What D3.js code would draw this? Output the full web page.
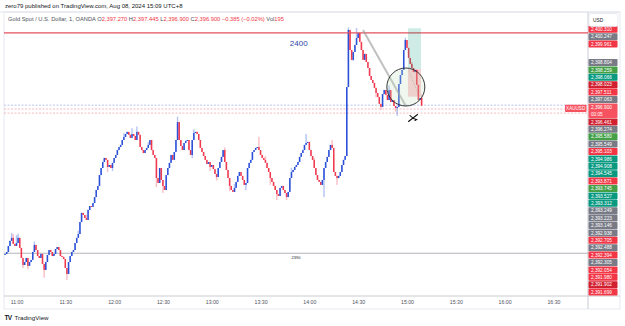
<!DOCTYPE html>
<html>
<head>
<meta charset="utf-8">
<script src="https://cdn.jsdelivr.net/npm/d3@7"></script>
<style>
  body { margin: 0; background: #fff; }
  text { font-family: "Liberation Sans", Arial, sans-serif; }
</style>
</head>
<body>
<svg id="chart" width="625" height="326"></svg>
<script>
// 1-minute XAUUSD bars, Aug 08 2024, first bar at 10:53
const startTime = "10:53";
const firstOpen = 2389.95;
const closes = [
  2389.97, 2390.06, 2390.34, 2390.58, 2390.72, 2390.44, 2390.34, 2390.48, 2390.72, 2390.25,
  2389.78, 2389.45, 2389.59, 2389.78, 2389.41, 2389.59, 2389.69, 2390.06, 2390.39, 2390.15,
  2389.87, 2389.78, 2389.97, 2389.50, 2389.22, 2389.59, 2389.92, 2390.15, 2390.06, 2389.87,
  2389.97, 2390.20, 2390.29, 2390.15, 2389.87, 2389.83, 2389.73, 2389.31, 2389.03, 2389.59,
  2389.87, 2390.06, 2390.15, 2390.48, 2390.72, 2390.90, 2391.46, 2391.89, 2391.79, 2391.65,
  2391.56, 2392.03, 2392.21, 2392.17, 2392.35, 2392.63, 2392.96, 2393.15, 2393.66, 2393.99,
  2394.27, 2394.46, 2394.37, 2394.04, 2394.13, 2393.99, 2394.23, 2394.46, 2394.60, 2394.83,
  2394.97, 2395.07, 2395.30, 2395.44, 2395.58, 2395.68, 2395.54, 2395.40, 2395.58, 2395.49,
  2395.30, 2395.68, 2395.54, 2394.97, 2394.83, 2394.69, 2394.83, 2394.93, 2395.07, 2395.30,
  2394.83, 2394.60, 2394.46, 2393.52, 2393.29, 2393.99, 2393.43, 2393.15, 2392.96, 2393.66,
  2393.99, 2394.23, 2394.60, 2394.37, 2394.74, 2395.30, 2396.14, 2395.30, 2395.02, 2394.83,
  2395.16, 2395.26, 2395.30, 2394.83, 2394.60, 2395.30, 2395.63, 2395.68, 2395.58, 2395.30,
  2394.93, 2394.74, 2394.55, 2394.37, 2394.18, 2394.27, 2394.04, 2394.13, 2393.94, 2393.71,
  2393.57, 2393.99, 2394.27, 2394.51, 2394.83, 2394.27, 2393.90, 2393.52, 2393.15, 2392.96,
  2392.87, 2393.06, 2393.34, 2393.62, 2393.80, 2393.62, 2393.43, 2393.20, 2393.29, 2393.99,
  2394.23, 2394.37, 2394.74, 2394.83, 2394.93, 2394.97, 2394.83, 2394.60, 2394.46, 2394.37,
  2394.23, 2393.99, 2393.80, 2393.52, 2393.34, 2393.15, 2392.96, 2392.77, 2392.68, 2393.06,
  2393.15, 2392.96, 2392.82, 2392.63, 2392.87, 2393.52, 2393.80, 2393.90, 2394.04, 2394.13,
  2394.27, 2394.51, 2394.69, 2394.83, 2395.07, 2395.16, 2395.21, 2394.83, 2394.55, 2394.37,
  2393.99, 2393.66, 2393.43, 2393.34, 2393.20, 2393.43, 2393.99, 2394.27, 2394.51, 2394.83,
  2395.07, 2394.93, 2393.80, 2393.62, 2393.52, 2393.62, 2393.80, 2394.13, 2394.37, 2394.55,
  2397.78, 2400.45, 2399.51, 2399.05, 2399.42, 2399.75, 2400.07, 2400.31, 2399.89, 2399.51,
  2399.05, 2399.33, 2398.95, 2398.67, 2398.30, 2398.11, 2397.97, 2397.74, 2397.50, 2397.31,
  2396.99, 2396.85, 2397.45, 2397.64, 2397.41, 2397.17, 2397.64, 2397.08, 2397.17, 2396.89,
  2396.80, 2396.85, 2397.92, 2398.34, 2398.58, 2399.51, 2399.98, 2399.61, 2399.14, 2398.86,
  2398.67, 2398.48, 2398.58, 2397.88, 2397.17, 2397.27, 2396.90
];
// visible wick ends (bar index -> price)
const wickHigh = {
  4: 2390.95, 5: 2390.90, 7: 2390.85, 8: 2390.92, 18: 2390.55, 45: 2391.05, 50: 2391.80,
  73: 2395.62, 78: 2395.85, 81: 2395.93, 88: 2395.20, 106: 2396.39, 116: 2395.80,
  135: 2394.95, 141: 2393.25, 156: 2395.44, 160: 2394.55, 176: 2394.00, 185: 2395.58,
  190: 2394.45, 201: 2395.30, 202: 2394.40, 211: 2400.57, 216: 2400.54, 222: 2399.15,
  236: 2397.85, 246: 2400.09, 250: 2398.95, 253: 2398.55, 256: 2397.445
};
const wickLow = {
  11: 2389.30, 14: 2389.25, 24: 2388.86, 38: 2388.75, 63: 2393.80, 66: 2393.85,
  93: 2393.10, 97: 2392.82, 115: 2394.45, 126: 2393.85, 130: 2393.40, 138: 2392.91,
  148: 2392.95, 163: 2393.20, 167: 2392.49, 173: 2392.49, 196: 2392.63, 204: 2393.20,
  214: 2399.00, 228: 2397.30, 231: 2396.71, 240: 2396.62, 241: 2396.43
};
const timeTicks = ["11:00", "11:30", "12:00", "12:30", "13:00", "13:30", "14:00", "14:30", "15:00", "15:30", "16:00", "16:30"];
const axisLabels = [
  "2,400.310", "2,400.247", "2,399.961", "2,398.804", "2,398.259", "2,398.066", "2,398.023",
  "2,397.511", "2,397.063", "2,396.900", "2,396.461", "2,396.274", "2,395.580", "2,395.549",
  "2,395.103", "2,394.986", "2,394.908", "2,394.545", "2,393.871", "2,393.745", "2,393.527",
  "2,393.312", "2,393.249", "2,393.223", "2,393.146", "2,392.938", "2,392.705", "2,392.488",
  "2,392.394", "2,392.305", "2,392.054", "2,391.980", "2,391.902", "2,391.699"
];
const axisKinds = [
  "red", "grey", "red", "grey", "green", "teal", "dark",
  "red", "grey", "last", "dark", "grey", "green", "grey",
  "red", "teal", "teal", "teal", "red", "green", "teal",
  "teal", "grey", "grey", "grey", "grey", "red", "grey",
  "red", "grey", "red", "red", "dark", "red"
];
const headerOHLC = ["2,397.270", "2,397.445", "2,396.900", "2,396.900"];
const headerChange = "\u22120.385 (\u22120.02%)";
const headerVol = "195";
const resistance = 2400.31;
const support = 2390;
const dashedLevels = [2396.93, 2396.75, 2396.56];

const kindColor = {
  red: "#f23645", grey: "#787b86", green: "#43a047", teal: "#089981",
  dark: "#d1202f", last: "#f7525f"
};

const toMin = s => { const [h, m] = s.split(":").map(Number); return h * 60 + m; };

const svg = d3.select("#chart");
const pane = { left: 4, right: 588, top: 12, bottom: 296 };

const x = d3.scaleLinear().domain([652.32, 1011.26]).range([pane.left, pane.right]);
const y = d3.scaleLinear().domain([2388.0, 2401.29]).range([pane.bottom, pane.top]);

const t0 = toMin(startTime);
const bars = closes.map((c, i) => {
  const o = i === 0 ? firstOpen : closes[i - 1];
  return {
    t: t0 + i, o: o, c: c,
    h: wickHigh[i] !== undefined ? wickHigh[i] : Math.max(o, c),
    l: wickLow[i] !== undefined ? wickLow[i] : Math.min(o, c)
  };
});

// frame
svg.append("rect").attr("x", 0).attr("y", 0).attr("width", 625).attr("height", 326).attr("fill", "#fff");
svg.append("line").attr("x1", 0).attr("x2", 620).attr("y1", 12).attr("y2", 12).attr("stroke", "#e0e3eb");
svg.append("rect").attr("x", pane.left).attr("y", pane.top).attr("width", 620 - pane.left).attr("height", 309 - pane.top)
  .attr("fill", "none").attr("stroke", "#e0e3eb").attr("stroke-width", 0.8);
svg.append("line").attr("x1", pane.right).attr("x2", pane.right).attr("y1", pane.top).attr("y2", 309).attr("stroke", "#c9ccd4");
svg.append("line").attr("x1", pane.left).attr("x2", 620).attr("y1", pane.bottom).attr("y2", pane.bottom).attr("stroke", "#c9ccd4");

// header
svg.append("text").attr("x", 5).attr("y", 8).attr("font-size", 6).attr("fill", "#131722")
  .text("zero79 published on TradingView.com, Aug 08, 2024 15:09 UTC+8");
const hdr = svg.append("text").attr("x", 8).attr("y", 20.5).attr("font-size", 5.75).attr("fill", "#50535e");
hdr.append("tspan").text("Gold Spot / U.S. Dollar, 1, OANDA  ");
["O", "H", "L", "C"].forEach((k, i) => {
  hdr.append("tspan").text((i ? " " : "") + k);
  hdr.append("tspan").attr("fill", "#f23645").text(headerOHLC[i]);
});
hdr.append("tspan").attr("fill", "#f23645").text(" " + headerChange);
hdr.append("tspan").text(" Vol");
hdr.append("tspan").attr("fill", "#f23645").text(headerVol);

const plot = svg.append("g");

// horizontal levels
plot.append("line").attr("x1", pane.left).attr("x2", pane.right)
  .attr("y1", y(support)).attr("y2", y(support)).attr("stroke", "#b2b5be").attr("stroke-width", 1.2);
plot.selectAll(".dash").data(dashedLevels).enter().append("line")
  .attr("x1", pane.left).attr("x2", pane.right)
  .attr("y1", d => y(d)).attr("y2", d => y(d))
  .attr("stroke", (d, i) => i === 0 ? "#a9b9ee" : "#f5a8b1")
  .attr("stroke-width", 0.8).attr("stroke-dasharray", "2,1.5");

// candles
const bw = 1.5;
plot.selectAll(".wick").data(bars).enter().append("rect")
  .attr("x", d => x(d.t) - 0.7).attr("width", 1.4)
  .attr("y", d => y(d.h)).attr("height", d => Math.max(1, y(d.l) - y(d.h)))
  .attr("fill", d => d.c >= d.o ? "rgba(60,100,230,0.38)" : "rgba(242,70,90,0.35)");
plot.selectAll(".bar").data(bars).enter().append("rect")
  .attr("x", d => x(d.t) - bw / 2).attr("width", bw)
  .attr("y", d => y(Math.max(d.o, d.c)))
  .attr("height", d => Math.max(1, Math.abs(y(d.o) - y(d.c))))
  .attr("fill", d => d.c >= d.o ? "#2b50d8" : "#f0394f");

plot.append("line").attr("x1", pane.left).attr("x2", pane.right)
  .attr("y1", y(resistance)).attr("y2", y(resistance)).attr("stroke", "#e5505e").attr("stroke-width", 1.3);

// drawings
plot.append("text").attr("x", x(toMin("13:48"))).attr("y", y(2399.72)).attr("font-size", 8)
  .attr("fill", "#2f45a8").text("2400");
plot.append("text").attr("x", x(toMin("13:49"))).attr("y", y(2389.74)).attr("font-size", 4)
  .attr("fill", "#131722").text("2390");
plot.append("line")
  .attr("x1", x(toMin("14:33"))).attr("y1", y(2400.45))
  .attr("x2", x(toMin("14:59") + 0.3)).attr("y2", y(2396.89))
  .attr("stroke", "rgba(150,150,150,0.6)").attr("stroke-width", 2);
// position tool
const posL = x(toMin("15:00") + 0.6), posR = x(toMin("15:08") + 0.6);
plot.append("rect").attr("x", posL).attr("width", posR - posL)
  .attr("y", y(2400.53)).attr("height", y(2398.62) - y(2400.53)).attr("fill", "rgba(8,153,129,0.2)");
plot.append("rect").attr("x", posL).attr("width", posR - posL)
  .attr("y", y(2398.62)).attr("height", y(2397.33) - y(2398.62)).attr("fill", "rgba(242,54,69,0.25)");
plot.append("line").attr("x1", posL + 1).attr("y1", y(2398.55)).attr("x2", posR - 3).attr("y2", y(2397.45))
  .attr("stroke", "#a0a0a0").attr("stroke-width", 0.7).attr("stroke-dasharray", "1,1.5");
plot.append("circle").attr("cx", x(toMin("14:59") + 0.3)).attr("cy", y(2397.78)).attr("r", 19)
  .attr("fill", "rgba(190,225,190,0.25)").attr("stroke", "#222").attr("stroke-width", 0.9);
// brush cross
const cx0 = x(toMin("15:03") + 0.7), cy0 = y(2396.33);
plot.append("path").attr("d", `M${cx0 - 4.5},${cy0 + 3.5} L${cx0 + 4.5},${cy0 - 3.5}`)
  .attr("stroke", "#111").attr("stroke-width", 1.1).attr("fill", "none").attr("stroke-linecap", "round");
plot.append("path").attr("d", `M${cx0 - 3},${cy0 - 2.5} Q${cx0},${cy0 + 1} ${cx0 + 3.5},${cy0 + 1.5} L${cx0 + 2},${cy0 + 2.5}`)
  .attr("stroke", "#111").attr("stroke-width", 1.1).attr("fill", "none").attr("stroke-linecap", "round");

// XAUUSD tag
const lastY = y(closes[closes.length - 1]);
svg.append("rect").attr("x", 565).attr("y", lastY - 1).attr("width", 21.5).attr("height", 7.2).attr("rx", 0.8).attr("fill", "#f7525f");
svg.append("text").attr("x", 575.7).attr("y", lastY + 4.3).attr("font-size", 4.6).attr("text-anchor", "middle")
  .attr("fill", "#fff").text("XAUUSD");

// price axis labels (stacked as TradingView draws them)
const lh = 7.4;
let cur = 25.8;
axisLabels.forEach((v, i) => {
  if (i === 3) cur += 11;
  const h = axisKinds[i] === "last" ? 15 : lh;
  const g = svg.append("g");
  g.append("rect").attr("x", 588.5).attr("y", cur).attr("width", 29).attr("height", h - 0.4)
    .attr("rx", 0.8).attr("fill", kindColor[axisKinds[i]]);
  g.append("text").attr("x", 591).attr("y", cur + 5.2).attr("font-size", 4.7).attr("fill", "#fff").text(v);
  if (axisKinds[i] === "last") {
    g.append("text").attr("x", 591).attr("y", cur + 12.6).attr("font-size", 4.7).attr("fill", "#fff").text("00:05");
  }
  cur += h;
});
svg.append("rect").attr("x", 589).attr("y", 13.5).attr("width", 29).attr("height", 13).attr("rx", 2)
  .attr("fill", "#fff").attr("stroke", "#e0e3eb").attr("stroke-width", 0.7);
svg.append("text").attr("x", 593).attr("y", 22).attr("font-size", 4.8).attr("fill", "#131722").text("USD");

// time axis
const xAxis = d3.axisBottom(x)
  .tickValues(timeTicks.map(toMin))
  .tickFormat((d, i) => timeTicks[i])
  .tickSize(0).tickPadding(4.5);
const xg = svg.append("g").attr("transform", `translate(0,${pane.bottom})`).call(xAxis);
xg.select(".domain").remove();
xg.selectAll("text").attr("font-size", 5.2).attr("fill", "#50535e").attr("font-family", "Liberation Sans, Arial, sans-serif");

// logo
svg.append("text").attr("x", 4.5).attr("y", 320).attr("font-size", 6.5).attr("font-weight", "bold")
  .attr("letter-spacing", -0.6).attr("fill", "#131722").text("TV");
svg.append("text").attr("x", 14.5).attr("y", 320).attr("font-size", 6.2).attr("fill", "#131722").text("TradingView");
</script>
</body>
</html>
